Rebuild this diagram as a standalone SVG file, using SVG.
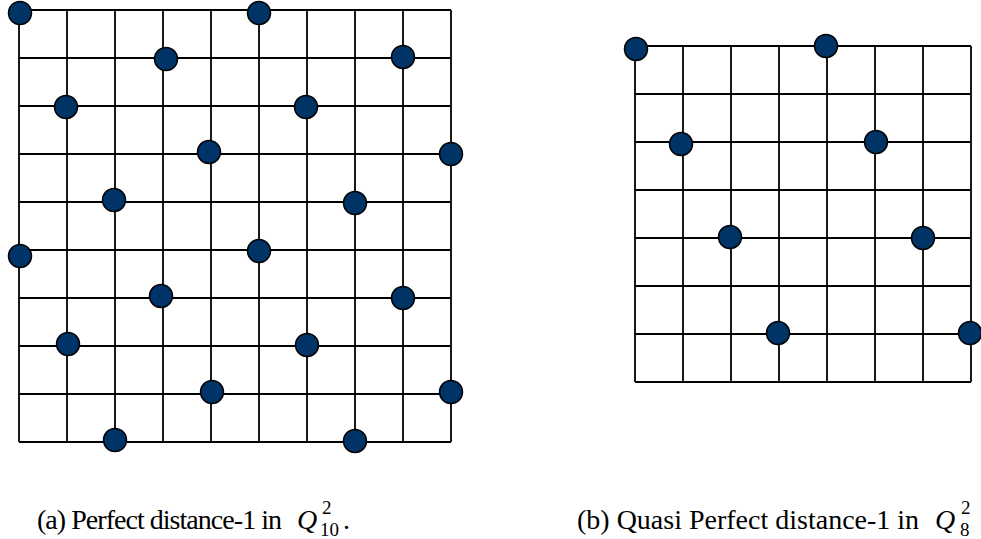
<svg xmlns="http://www.w3.org/2000/svg" width="981" height="539" viewBox="0 0 981 539">
<style>
.grid{stroke:#000;stroke-width:1.8;fill:none}
.dot{fill:#003366;stroke:#000;stroke-width:1.5}
.cap{fill:#000}
</style>
<rect width="981" height="539" fill="#fff"/>
<g id="connectors">
<g id="gridA" class="grid">
<path d="M19,10V442M67,10V442M115,10V442M163,10V442M211,10V442M259,10V442M307,10V442M355,10V442M403,10V442M451,10V442"/>
<path d="M19,10H451M19,58H451M19,106H451M19,154H451M19,202H451M19,250H451M19,298H451M19,346H451M19,394H451M19,442H451"/>
</g>
<g id="gridB" class="grid">
<path d="M635,46V382M683,46V382M731,46V382M779,46V382M827,46V382M875,46V382M923,46V382M971,46V382"/>
<path d="M635,46H971M635,94H971M635,142H971M635,190H971M635,238H971M635,286H971M635,334H971M635,382H971"/>
</g>
</g>
<g id="a1"><circle class="dot" cx="20" cy="13" r="11.5"/></g>
<g id="a2"><circle class="dot" cx="259" cy="13" r="11.5"/></g>
<g id="a3"><circle class="dot" cx="166" cy="59" r="11.5"/></g>
<g id="a4"><circle class="dot" cx="403" cy="57" r="11.5"/></g>
<g id="a5"><circle class="dot" cx="66" cy="107" r="11.5"/></g>
<g id="a6"><circle class="dot" cx="306" cy="107" r="11.5"/></g>
<g id="a7"><circle class="dot" cx="209" cy="152" r="11.5"/></g>
<g id="a8"><circle class="dot" cx="451" cy="154" r="11.5"/></g>
<g id="a9"><circle class="dot" cx="114" cy="200" r="11.5"/></g>
<g id="a10"><circle class="dot" cx="355" cy="203" r="11.5"/></g>
<g id="a11"><circle class="dot" cx="20" cy="256" r="11.5"/></g>
<g id="a12"><circle class="dot" cx="259" cy="251" r="11.5"/></g>
<g id="a13"><circle class="dot" cx="161" cy="296" r="11.5"/></g>
<g id="a14"><circle class="dot" cx="403" cy="298" r="11.5"/></g>
<g id="a15"><circle class="dot" cx="68" cy="344" r="11.5"/></g>
<g id="a16"><circle class="dot" cx="307" cy="345" r="11.5"/></g>
<g id="a17"><circle class="dot" cx="212" cy="392" r="11.5"/></g>
<g id="a18"><circle class="dot" cx="451" cy="392" r="11.5"/></g>
<g id="a19"><circle class="dot" cx="115" cy="440" r="11.5"/></g>
<g id="a20"><circle class="dot" cx="355" cy="441" r="11.5"/></g>
<g id="b1"><circle class="dot" cx="636" cy="49" r="11.5"/></g>
<g id="b2"><circle class="dot" cx="826" cy="46" r="11.5"/></g>
<g id="b3"><circle class="dot" cx="681" cy="144" r="11.5"/></g>
<g id="b4"><circle class="dot" cx="876" cy="142" r="11.5"/></g>
<g id="b5"><circle class="dot" cx="730" cy="237" r="11.5"/></g>
<g id="b6"><circle class="dot" cx="923" cy="238" r="11.5"/></g>
<g id="b7"><circle class="dot" cx="778" cy="333" r="11.5"/></g>
<g id="b8"><circle class="dot" cx="970" cy="333" r="11.5"/></g>
<g id="captionA" class="cap" font-family="'Liberation Serif', 'DejaVu Serif', serif" font-size="28">
<text x="37" y="529" textLength="245" lengthAdjust="spacing">(a) Perfect distance-1 in</text>
<text x="297" y="529" font-style="italic">Q</text>
<text x="322" y="514" font-size="19">2</text>
<text x="320" y="536" font-size="19">10</text>
<text x="343" y="529">.</text>
</g>
<g id="captionB" class="cap" font-family="'Liberation Serif', 'DejaVu Serif', serif" font-size="28">
<text x="577" y="529">(b) Quasi Perfect distance-1 in</text>
<text x="935" y="529" font-style="italic">Q</text>
<text x="961" y="514" font-size="19">2</text>
<text x="960" y="536" font-size="19">8</text>
</g>
</svg>
